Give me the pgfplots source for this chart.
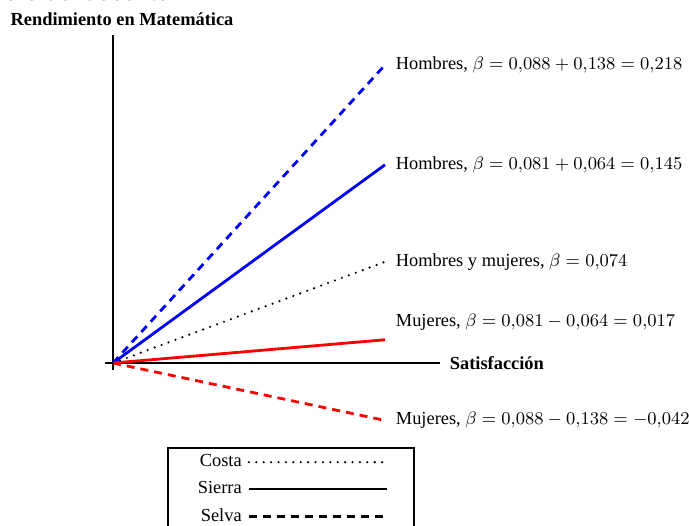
\documentclass[border=0pt]{standalone}
\usepackage{fontspec}
\setmainfont{Liberation Serif}
\newfontfamily\titlefont{Liberation Sans}
\usepackage{pgfplots}
\pgfplotsset{compat=1.18}
\usetikzlibrary{calc}

\pgfplotsset{
  costa/.style={black, line width=1.2pt, line cap=round, dash pattern=on 0pt off 3.7pt},
  sierra/.style={line width=1.4pt},
  selva/.style={line width=1.4pt, dash pattern=on 4pt off 3pt},
}

\begin{document}
\fontsize{9.2}{11}\selectfont
\begin{tikzpicture}[font=\fontsize{9.2}{11}\selectfont]
\begin{axis}[
  x=136pt, y=683.5pt,
  axis lines=middle,
  axis line style={-, line width=0.8pt},
  xmin=-0.0294, xmax=1.202,
  ymin=-0.0051, ymax=0.240,
  xtick=\empty, ytick=\empty,
  clip=false,
  xlabel={\textbf{Satisfacción}},
  ylabel={\textbf{Rendimiento en Matemática}},
  every axis x label/.style={at={(axis cs:1.202,0)}, anchor=west, xshift=1.7pt},
  every axis y label/.style={at={(axis cs:0,0.240)}, anchor=south, xshift=4.5pt, yshift=1.2pt},
  legend plot pos=right,
  legend cell align=right,
  legend image code/.code={\draw[#1] (0pt,0pt) -- (62.9pt,0pt); \path (62.9pt,0pt) -- (69pt,0pt);},
  legend style={at={(axis cs:0.1985,-0.0614)}, anchor=north west, draw=black,
    line width=0.8pt, inner xsep=13pt, inner ysep=1.5pt, row sep=2pt, column sep=1pt,
    font=\fontsize{9.2}{11}\selectfont},
]
% Selva
\addplot[blue, selva, forget plot] coordinates {(0,0) (1,0.218)};
\addplot[red, selva, forget plot] coordinates {(0,0) (1,-0.042)};
% Sierra
\addplot[blue, sierra, forget plot] coordinates {(0,0) (1,0.145)};
\addplot[red, sierra, forget plot] coordinates {(0,0) (1,0.017)};
% Costa
\addplot[costa, forget plot] coordinates {(0,0) (1,0.074)};

\addlegendimage{costa}
\addlegendentry{Costa}
\addlegendimage{black, line width=1.2pt}
\addlegendentry{Sierra}
\addlegendimage{black, line width=1.2pt, dash pattern=on 4pt off 3pt}
\addlegendentry{Selva}

\node[anchor=west, xshift=2.2pt] at (axis cs:1,0.218) {Hombres, $\beta = 0{,}088 + 0{,}138 = 0{,}218$};
\node[anchor=west, xshift=2.2pt] at (axis cs:1,0.145) {Hombres, $\beta = 0{,}081 + 0{,}064 = 0{,}145$};
\node[anchor=west, xshift=2.2pt] at (axis cs:1,0.074) {Hombres y mujeres, $\beta = 0{,}074$};
\node[anchor=west, xshift=2.2pt] at (axis cs:1,0.030) {Mujeres, $\beta = 0{,}081 - 0{,}064 = 0{,}017$};
\node[anchor=west, xshift=2.2pt] at (axis cs:1,-0.042) {Mujeres, $\beta = 0{,}088 - 0{,}138 = -0{,}042$};

\coordinate (O) at (axis cs:0,0);
\end{axis}

\node[anchor=base east, inner sep=0pt, font=\titlefont\fontsize{12}{14}\selectfont]
  at ($(O)+(28.5pt,181.3pt)$) {Género del docente};

\pgfresetboundingbox
\path[use as bounding box] ($(O)+(-56.5pt,-81pt)$) rectangle ($(O)+(288pt,181.5pt)$);
\end{tikzpicture}
\end{document}
